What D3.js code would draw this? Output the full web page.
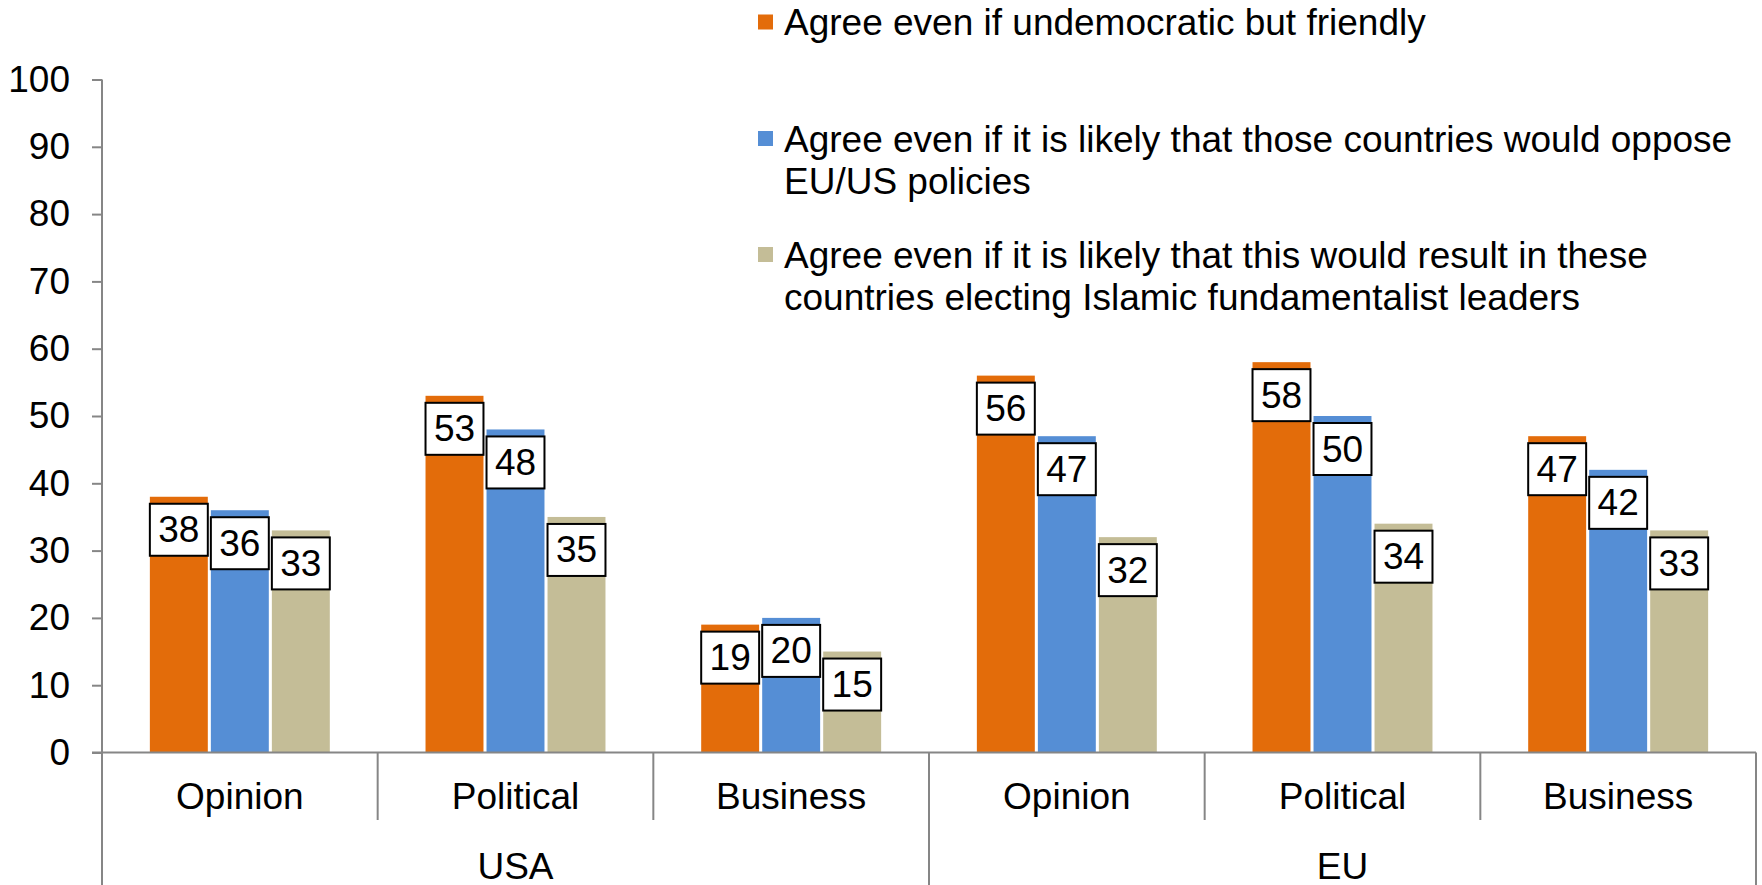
<!DOCTYPE html>
<html>
<head>
<meta charset="utf-8">
<script src="https://cdn.jsdelivr.net/npm/d3@7"></script>
<style>
  html, body { margin: 0; padding: 0; background: #fff; }
  svg { display: block; font-family: "Liberation Sans", Arial, sans-serif; }
</style>
</head>
<body>
<svg id="chart" width="1762" height="885"></svg>
<script>
// Groups and the sub-categories shown under each of them
const groups = ["USA", "EU"];
const subcategories = ["Opinion", "Political", "Business"];

// Series (legend entries, pre-wrapped into lines)
const seriesKeys = ["friendly", "oppose", "islamist"];
const seriesLabels = [
  ["Agree even if undemocratic but friendly"],
  ["Agree even if it is likely that those countries would oppose", "EU/US policies"],
  ["Agree even if it is likely that this would result in these", "countries electing Islamic fundamentalist leaders"]
];
const seriesColors = ["#E36C0A", "#558ED5", "#C4BD97"];

// Values per series, in order: USA Opinion, Political, Business, EU Opinion, Political, Business
const friendlyValues = [38, 53, 19, 56, 58, 47];
const opposeValues   = [36, 48, 20, 47, 50, 42];
const islamistValues = [33, 35, 15, 32, 34, 33];

const yTicks = [0, 10, 20, 30, 40, 50, 60, 70, 80, 90, 100];

// Build flat category list
const categories = [];
groups.forEach(g => subcategories.forEach(s => categories.push({ group: g, sub: s, key: g + "|" + s })));
const seriesValues = [friendlyValues, opposeValues, islamistValues];

const svg = d3.select("#chart");
const axisColor = "#868686";
const font = 37;

const left = 102, right = 1756, bottom = 885;
const y = d3.scaleLinear().domain([0, 100]).range([752.5, 79.5]);
const x0 = d3.scaleBand().domain(categories.map(c => c.key)).range([left, right]).padding(0);
const groupWidth = 183;
const x1 = d3.scaleBand().domain(seriesKeys)
  .range([(x0.bandwidth() - groupWidth) / 2, (x0.bandwidth() + groupWidth) / 2])
  .paddingInner(0.05).paddingOuter(0.025);

// Y axis
const yAxis = d3.axisLeft(y).tickValues(yTicks).tickSize(10).tickPadding(22).tickSizeOuter(0);
const gy = svg.append("g").attr("transform", `translate(${left},0)`).call(yAxis);
gy.select(".domain").remove();
gy.selectAll(".tick line").attr("stroke", axisColor).attr("stroke-width", 2);
gy.selectAll(".tick text").attr("fill", "#000").style("font-size", font + "px")
  .style("font-family", "'Liberation Sans', Arial, sans-serif");
svg.append("line").attr("x1", left).attr("x2", left).attr("y1", y(100)).attr("y2", bottom)
  .attr("stroke", axisColor).attr("stroke-width", 2);

// Bars
const catG = svg.append("g").selectAll("g").data(categories).join("g")
  .attr("transform", d => `translate(${x0(d.key)},0)`);

const barData = (c, ci) => seriesKeys.map((k, si) => ({ key: k, si, value: seriesValues[si][ci] }));

catG.selectAll("rect.bar").data(c => barData(c, categories.indexOf(c))).join("rect")
  .attr("class", "bar")
  .attr("x", d => x1(d.key))
  .attr("width", x1.bandwidth())
  .attr("y", d => y(d.value))
  .attr("height", d => y(0) - y(d.value))
  .attr("fill", d => seriesColors[d.si]);

// Value labels inside the top of each bar
const labelG = catG.selectAll("g.lbl").data(c => barData(c, categories.indexOf(c))).join("g")
  .attr("class", "lbl")
  .attr("transform", d => `translate(${x1(d.key)},${y(d.value) + 7})`);
labelG.append("rect")
  .attr("x", 0).attr("y", 0)
  .attr("width", x1.bandwidth()).attr("height", 52)
  .attr("fill", "#fff").attr("stroke", "#000").attr("stroke-width", 2);
labelG.append("text")
  .attr("x", x1.bandwidth() / 2).attr("y", 26)
  .attr("text-anchor", "middle").attr("dominant-baseline", "central")
  .style("font-size", font + "px").text(d => d.value);

// X axis baseline
svg.append("line").attr("x1", left - 10).attr("x2", right).attr("y1", y(0)).attr("y2", y(0))
  .attr("stroke", axisColor).attr("stroke-width", 2);

// Category dividers: short between sub-categories, long between groups
categories.forEach((c, i) => {
  if (i === 0) return;
  const isGroupEdge = c.group !== categories[i - 1].group;
  svg.append("line")
    .attr("x1", x0(c.key)).attr("x2", x0(c.key))
    .attr("y1", y(0)).attr("y2", isGroupEdge ? bottom : 820)
    .attr("stroke", axisColor).attr("stroke-width", 2);
});
svg.append("line").attr("x1", right).attr("x2", right).attr("y1", y(0)).attr("y2", bottom)
  .attr("stroke", axisColor).attr("stroke-width", 2);

// Sub-category labels
svg.append("g").selectAll("text").data(categories).join("text")
  .attr("x", d => x0(d.key) + x0.bandwidth() / 2)
  .attr("y", 796)
  .attr("text-anchor", "middle").attr("dominant-baseline", "central")
  .style("font-size", font + "px").text(d => d.sub);

// Group labels
svg.append("g").selectAll("text").data(groups).join("text")
  .attr("x", g => {
    const keys = categories.filter(c => c.group === g).map(c => c.key);
    return (x0(keys[0]) + x0(keys[keys.length - 1]) + x0.bandwidth()) / 2;
  })
  .attr("y", 866)
  .attr("text-anchor", "middle").attr("dominant-baseline", "central")
  .style("font-size", font + "px").text(g => g);

// Legend
const legendX = 758, legendTextX = 784;
const legendRowY = [22.5, 139, 255];
const lineGap = 42;
const lg = svg.append("g").selectAll("g").data(seriesKeys).join("g")
  .attr("transform", (d, i) => `translate(0,${legendRowY[i]})`);
lg.append("rect").attr("x", legendX).attr("y", -8).attr("width", 15).attr("height", 15)
  .attr("fill", (d, i) => seriesColors[i]);
lg.each(function(d, i) {
  const g = d3.select(this);
  seriesLabels[i].forEach((line, li) => {
    g.append("text").attr("x", legendTextX).attr("y", li * lineGap)
      .attr("dominant-baseline", "central")
      .style("font-size", font + "px").text(line);
  });
});
</script>
</body>
</html>
